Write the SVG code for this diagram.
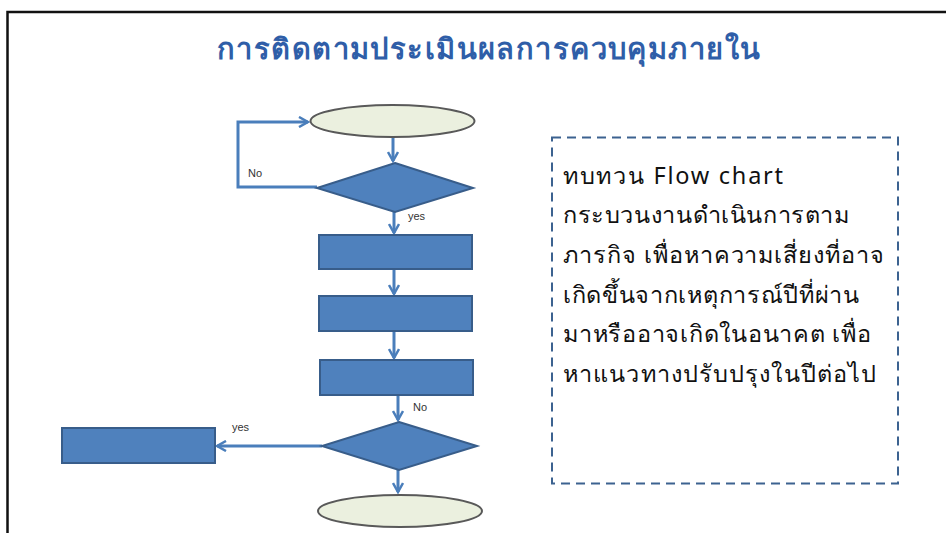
<svg xmlns="http://www.w3.org/2000/svg" width="946" height="533" viewBox="0 0 946 533">
<style>
.term{fill:#ebf0df;stroke:#595959;stroke-width:2}
.proc{fill:#4f81bd;stroke:#385d8a;stroke-width:2}
.conn{fill:none;stroke:#4a7ebb;stroke-width:3}
.lbl{font-family:"Liberation Sans",sans-serif;font-size:11px;fill:#333}
.body{font-family:"Noto Sans","Liberation Sans",sans-serif;font-size:23.5px;fill:#111}
</style>
<defs>
<marker id="ah" viewBox="0 0 12 12" refX="10" refY="6" markerWidth="12" markerHeight="12" markerUnits="userSpaceOnUse" orient="auto">
<path d="M1,1 L10,6 L1,11" fill="none" stroke="#4a7ebb" stroke-width="2.5"/>
</marker>
</defs>
<rect width="946" height="533" fill="#fff"/>
<path d="M7.5,533 V12 H946" fill="none" stroke="#111" stroke-width="2.5"/>
<text x="217" y="59" textLength="543" lengthAdjust="spacing" font-family="Noto Sans,Liberation Sans,sans-serif" font-size="29" font-weight="bold" fill="#2f5ea8">การติดตามประเมินผลการควบคุมภายใน</text>
<g id="connectors">
<path class="conn" d="M393,137 V161" marker-end="url(#ah)"/>
<path class="conn" d="M317,187 H238 V122 H308" marker-end="url(#ah)"/>
<path class="conn" d="M394,212 V233" marker-end="url(#ah)"/>
<path class="conn" d="M394,269 V294" marker-end="url(#ah)"/>
<path class="conn" d="M394,331 V358" marker-end="url(#ah)"/>
<path class="conn" d="M398,395 V420" marker-end="url(#ah)"/>
<path class="conn" d="M322,446 H217" marker-end="url(#ah)"/>
<path class="conn" d="M398,470 V492" marker-end="url(#ah)"/>
<text class="lbl" x="248" y="177">No</text>
<text class="lbl" x="408" y="220">yes</text>
<text class="lbl" x="413" y="411">No</text>
<text class="lbl" x="232" y="431">yes</text>
</g>
<g id="start"><ellipse class="term" cx="392.5" cy="121" rx="82" ry="16"/></g>
<g id="decision1"><polygon class="proc" points="395,163 473,188 395,212 317,188"/></g>
<g id="step1"><rect class="proc" x="319" y="235" width="153" height="34"/></g>
<g id="step2"><rect class="proc" x="319" y="296" width="153" height="35"/></g>
<g id="step3"><rect class="proc" x="320" y="360" width="153" height="35"/></g>
<g id="decision2"><polygon class="proc" points="399,422 477,446 399,470 322,446"/></g>
<g id="result"><rect class="proc" x="62" y="428" width="153" height="35"/></g>
<g id="end"><ellipse class="term" cx="400" cy="511" rx="82" ry="16"/></g>
<g id="note">
<rect x="552" y="137.5" width="346" height="346" fill="none" stroke="#3c6290" stroke-width="2" stroke-dasharray="9,6"/>
<text class="body" x="563" y="184" textLength="220" lengthAdjust="spacing">ทบทวน Flow chart</text>
<text class="body" x="563" y="223" textLength="286" lengthAdjust="spacing">กระบวนงานดำเนินการตาม</text>
<text class="body" x="563" y="263" textLength="321" lengthAdjust="spacing">ภารกิจ เพื่อหาความเสี่ยงที่อาจ</text>
<text class="body" x="563" y="303" textLength="296" lengthAdjust="spacing">เกิดขึ้นจากเหตุการณ์ปีที่ผ่าน</text>
<text class="body" x="563" y="342" textLength="308" lengthAdjust="spacing">มาหรืออาจเกิดในอนาคต เพื่อ</text>
<text class="body" x="563" y="382" textLength="313" lengthAdjust="spacing">หาแนวทางปรับปรุงในปีต่อไป</text>
</g>
</svg>
